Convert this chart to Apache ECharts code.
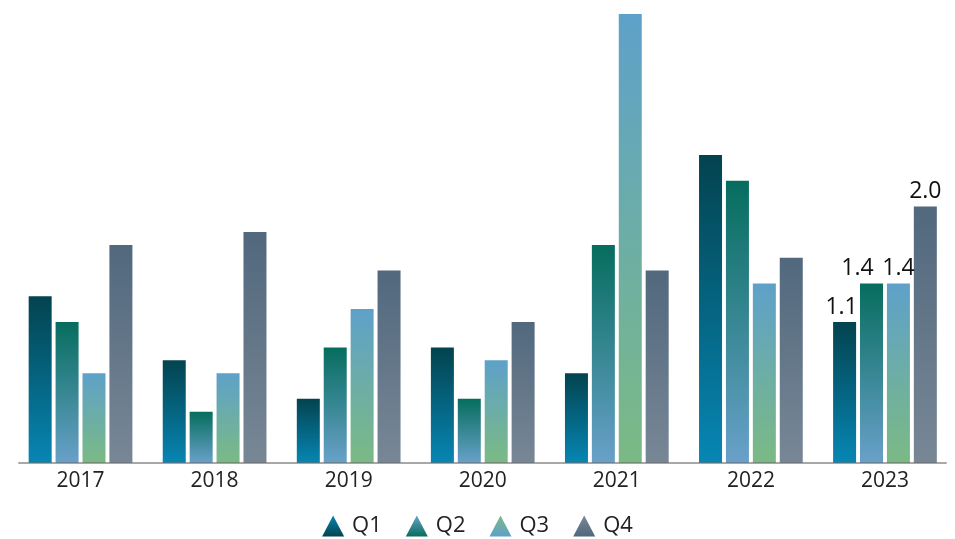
<!DOCTYPE html>
<html>
<head>
<meta charset="utf-8">
<script src="https://cdn.jsdelivr.net/npm/echarts@6/dist/echarts.min.js"></script>
<style>html,body{margin:0;padding:0;background:#fff;}#c{width:955px;height:539px;}</style>
</head>
<body>
<div id="c"></div>
<script>
const categories = ['2017','2018','2019','2020','2021','2022','2023'];
const seriesNames = ['Q1','Q2','Q3','Q4'];
const q1 = [1.3, 0.8, 0.5, 0.9, 0.7, 2.4, 1.1];
const q2 = [1.1, 0.4, 0.9, 0.5, 1.7, 2.2, 1.4];
const q3 = [0.7, 0.7, 1.2, 0.8, 3.5, 1.4, 1.4];
const q4 = [1.7, 1.8, 1.5, 1.1, 1.5, 1.6, 2.0];
const labeledIndex = 6;

const gradTop = ['#03434f', '#066d5e', '#5ea1c9', '#51687d'];
const gradBottom = ['#0786b4', '#69a1c9', '#7bba84', '#788796'];
const labelShift = [-3, -14, 0, 0];

function grad(top, bottom) {
  return new echarts.graphic.LinearGradient(0, 0, 0, 1, [
    {offset: 0, color: top}, {offset: 1, color: bottom}
  ]);
}

const values = [q1, q2, q3, q4];
const font = '"Open Sans", "Noto Sans", sans-serif';

const series = values.map((vals, i) => ({
  name: seriesNames[i],
  type: 'bar',
  xAxisIndex: 0,
  yAxisIndex: 0,
  barWidth: 23,
  barGap: '17%',
  itemStyle: {color: grad(gradTop[i], gradBottom[i])},
  label: {
    show: false,
    position: 'top',
    distance: 3,
    offset: [labelShift[i], 0],
    color: '#111',
    fontSize: 23,
    fontFamily: font,
    formatter: p => Number(p.value).toFixed(1)
  },
  data: vals.map((v, j) => j === labeledIndex ? {value: v, label: {show: true}} : v)
}));

const chart = echarts.init(document.getElementById('c'));
chart.setOption({
  animation: false,
  grid: [
    {left: 13.5, right: 3, top: 14, bottom: 76},
    {left: 19, right: 9, top: 14, bottom: 76}
  ],
  legend: {
    bottom: -3,
    left: 'center',
    icon: 'triangle',
    itemWidth: 22,
    itemHeight: 21,
    itemGap: 24,
    textStyle: {fontSize: 22, fontFamily: font, color: '#222', padding: [0, 0, 0, 3]},
    data: seriesNames.map((n, i) => ({
      name: n,
      itemStyle: {color: grad(gradBottom[i], gradTop[i])}
    }))
  },
  xAxis: [
    {
      type: 'category',
      gridIndex: 0,
      data: categories,
      axisLine: {show: false},
      axisTick: {show: false},
      axisLabel: {fontSize: 21, fontFamily: font, color: '#222', margin: 8}
    },
    {
      type: 'category',
      gridIndex: 1,
      data: categories,
      z: 10,
      axisLine: {show: true, lineStyle: {color: 'rgba(110,110,110,0.6)', width: 2}},
      axisTick: {show: false},
      axisLabel: {show: false}
    }
  ],
  yAxis: [
    {type: 'value', gridIndex: 0, min: 0, max: 3.5, show: false},
    {type: 'value', gridIndex: 1, min: 0, max: 3.5, show: false}
  ],
  series: series
});
</script>
</body>
</html>
